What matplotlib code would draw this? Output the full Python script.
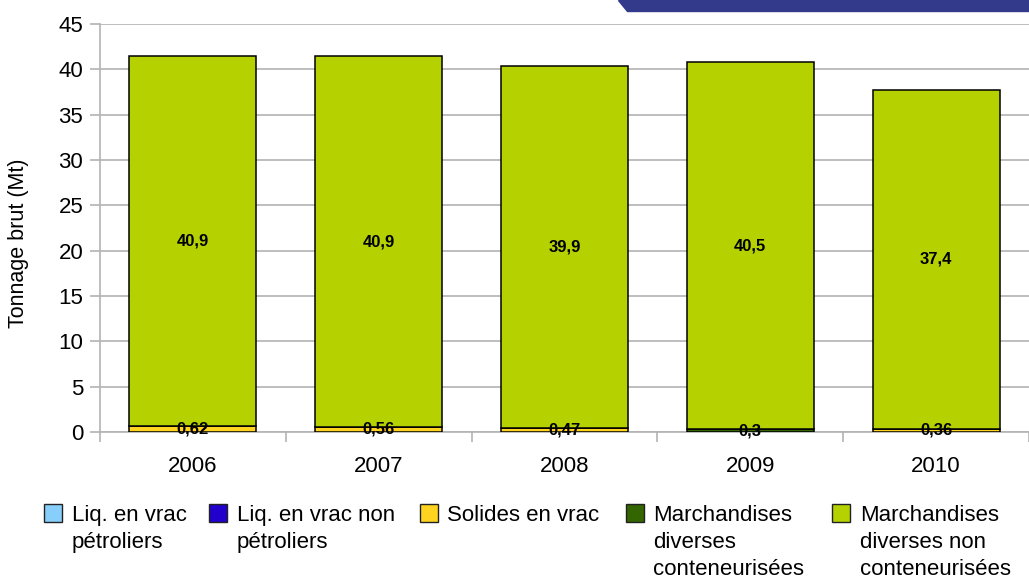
import matplotlib
matplotlib.use("Agg")
import matplotlib.pyplot as plt
from matplotlib.patches import Polygon, Rectangle
import numpy as np

years = ["2006", "2007", "2008", "2009", "2010"]
liq_petroliers = [0, 0, 0, 0, 0]
liq_non_petroliers = [0, 0, 0, 0, 0]
solides_vrac = [0.62, 0.56, 0.47, 0, 0.36]
march_conteneurisees = [0, 0, 0, 0.3, 0]
march_non_conteneurisees = [40.9, 40.9, 39.9, 40.5, 37.4]

series_names = ["Liq. en vrac\npétroliers", "Liq. en vrac non\npétroliers", "Solides en vrac",
                "Marchandises\ndiverses\nconteneurisées", "Marchandises\ndiverses non\nconteneurisées"]
colors = ["#87CEFA", "#2200CC", "#FFD320", "#336600", "#B5D200"]
series = [liq_petroliers, liq_non_petroliers, solides_vrac, march_conteneurisees, march_non_conteneurisees]

plt.rcParams['font.family'] = ['Liberation Sans', 'DejaVu Sans']
W, H = 1029, 580
fig = plt.figure(figsize=(W/100, H/100), dpi=100)
ax = fig.add_axes([100/W, 1-432/H, 1-100/W, (432-24)/H])

x = np.arange(len(years))
bottom = np.zeros(len(years))
for vals, c in zip(series, colors):
    vals = np.array(vals, dtype=float)
    ax.bar(x, vals, 0.683, bottom=bottom, color=c, edgecolor="black", linewidth=1.1, zorder=3)
    for xi, v, bo in zip(x, vals, bottom):
        if v > 0:
            ax.text(xi, bo + v/2, f"{v:g}".replace(".", ","), ha="center", va="center",
                    fontsize=12, fontweight="bold", zorder=5)
    bottom += vals

ax.set_xlim(-0.5, len(years)-0.5)
ax.set_ylim(0, 45)
ax.set_yticks(np.arange(0, 46, 5))
ax.set_xticks(x)
ax.set_xticklabels(years)
ax.set_xticks(np.arange(-0.5, len(years)), minor=True)
ax.tick_params(axis="x", which="major", length=0, labelsize=16, pad=17)
ax.tick_params(axis="x", which="minor", length=7, color="#b3b3b3", width=1.2)
ax.tick_params(axis="y", length=7, color="#b3b3b3", width=1.2, labelsize=16, pad=5)
ax.yaxis.grid(True, color="#b3b3b3", linewidth=1.2, zorder=0)
for s in ["top", "right"]:
    ax.spines[s].set_visible(False)
for s in ["left", "bottom"]:
    ax.spines[s].set_color("#b3b3b3")
    ax.spines[s].set_linewidth(1.2)

fig.text(19/W, 1-243/H, "Tonnage brut (Mt)", rotation=90, ha="center", va="center", fontsize=15.5)

# legend
sq_x = [44, 209, 420, 626, 832]
tx_x = [72, 237, 447, 653, 860]
for sx, tx, c, name in zip(sq_x, tx_x, colors, series_names):
    fig.patches.append(Rectangle((sx/W, 1-522/H), 18/W, 18/H, transform=fig.transFigure,
                                 facecolor=c, edgecolor="#222222", linewidth=1.0))
    fig.text(tx/W, 1-505/H, name, ha="left", va="top", fontsize=16, linespacing=1.36)

poly = Polygon([[618/W, 1.0], [1.0, 1.0], [1.0, 1-11/H], [627/W, 1-11/H]],
               closed=True, transform=fig.transFigure, color="#333A8C", zorder=10)
fig.patches.append(poly)

fig.savefig("out.png", dpi=100)
